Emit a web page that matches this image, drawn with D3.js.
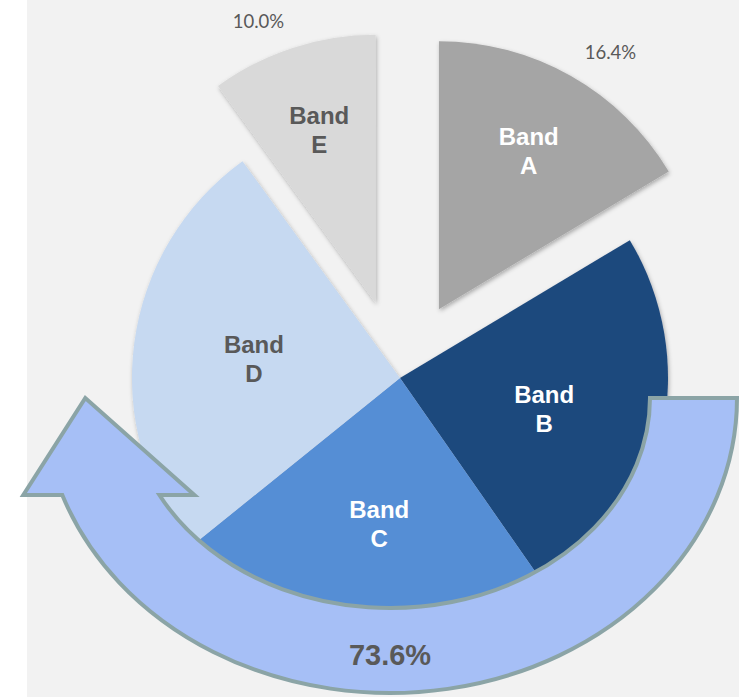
<!DOCTYPE html>
<html><head><meta charset="utf-8">
<script src="https://cdn.jsdelivr.net/npm/d3@7"></script>
<style>html,body{margin:0;padding:0;background:#fff;} svg{display:block}</style>
</head><body>
<svg id="chart" width="739" height="697"></svg>
<script>
// ---- data ----
const categories = ["Band A", "Band B", "Band C", "Band D", "Band E"];
const values = [16.4, 23.9, 23.9, 25.8, 10.0];
const pulledOut = ["Band A", "Band E"];
const groupedBands = ["Band B", "Band C", "Band D"];

// ---- layout ----
const W = 739, H = 697;
const cx = 400, cy = 378, R = 268, explode = 79;
const svg = d3.select("#chart");

svg.append("rect").attr("x", 27).attr("y", 0).attr("width", W - 27).attr("height", H).attr("fill", "#f2f2f2");

const defs = svg.append("defs");
const f = defs.append("filter").attr("id", "shadow").attr("x", "-20%").attr("y", "-20%").attr("width", "140%").attr("height", "140%");
f.append("feDropShadow").attr("dx", 1).attr("dy", 2).attr("stdDeviation", 2)
  .attr("flood-color", "#000").attr("flood-opacity", 0.3);

const color = d3.scaleOrdinal().domain(categories)
  .range(["#a5a5a5", "#1f497d", "#558ed5", "#c6d9f1", "#d9d9d9"]);
const labelColor = d3.scaleOrdinal().domain(categories)
  .range(["#ffffff", "#ffffff", "#ffffff", "#595959", "#595959"]);

const data = categories.map((c, i) => ({ cat: c, value: values[i] }));
const pie = d3.pie().sort(null).value(d => d.value);
const arcs = pie(data);
const arc = d3.arc().innerRadius(0).outerRadius(R);

const mid = d => (d.startAngle + d.endAngle) / 2;
const isOut = d => pulledOut.includes(d.data.cat);
const offset = d => isOut(d) ? [Math.sin(mid(d)) * explode, -Math.cos(mid(d)) * explode] : [0, 0];
const polar = (a, r) => [Math.sin(a) * r, -Math.cos(a) * r];

const g = svg.append("g").attr("transform", `translate(${cx},${cy})`);
g.append("g").attr("filter", "url(#shadow)")
  .selectAll("path").data(arcs).join("path")
  .attr("d", arc)
  .attr("fill", d => color(d.data.cat))
  .attr("transform", d => `translate(${offset(d)[0]},${offset(d)[1]})`);

// ---- curved arrow annotation ----
const ar = { cx: cx - 10, cy: cy + 20, orx: 347, ory: 295, irx: 260, iry: 210, endDy: 97, headOut: 39, headIn: 35, tipDx: 23 };
const ey = ar.cy + ar.endDy;
const oex = ar.cx - ar.orx * Math.sqrt(1 - Math.pow(ar.endDy / ar.ory, 2));
const iex = ar.cx - ar.irx * Math.sqrt(1 - Math.pow(ar.endDy / ar.iry, 2));
const arrowD = `M${ar.cx + ar.orx},${ar.cy} A${ar.orx},${ar.ory} 0 0 1 ${oex},${ey}` +
  ` L${oex - ar.headOut},${ey} L${oex + ar.tipDx},${ar.cy} L${iex + ar.headIn},${ey} L${iex},${ey}` +
  ` A${ar.irx},${ar.iry} 0 0 0 ${ar.cx + ar.irx},${ar.cy} Z`;
svg.append("path").attr("d", arrowD)
  .attr("fill", "#a6bff6").attr("stroke", "#8ba4a6").attr("stroke-width", 4)
  .attr("stroke-linejoin", "miter");

// ---- slice labels ----
const lab = g.selectAll("text.lab").data(arcs).join("text").attr("class", "lab")
  .attr("text-anchor", "middle")
  .attr("font-family", "'Liberation Sans', Arial, sans-serif")
  .attr("font-weight", "bold").attr("font-size", 24)
  .attr("fill", d => labelColor(d.data.cat))
  .attr("transform", d => {
    const o = offset(d);
    const p = polar(mid(d), R * (isOut(d) ? 0.68 : 0.55));
    return `translate(${o[0] + p[0]},${o[1] + p[1]})`;
  });
lab.each(function (d) {
  const parts = d.data.cat.split(" ");
  const t = d3.select(this);
  t.append("tspan").attr("x", 0).attr("y", -6).text(parts[0]);
  t.append("tspan").attr("x", 0).attr("y", 23).text(parts[1]);
});

// ---- percentage labels for pulled-out slices ----
g.selectAll("text.pct").data(arcs.filter(isOut)).join("text").attr("class", "pct")
  .attr("font-family", "Lato, 'Open Sans', sans-serif").attr("font-size", 18.5)
  .attr("fill", "#595959")
  .attr("dominant-baseline", "central")
  .attr("text-anchor", d => Math.sin(mid(d)) < 0 ? "end" : "start")
  .attr("x", d => offset(d)[0] + polar(mid(d), R + 28)[0])
  .attr("y", d => offset(d)[1] + polar(mid(d), R + 28)[1])
  .text(d => d3.format(".1f")(d.data.value) + "%");

// ---- grouped total on arrow ----
const groupTotal = d3.sum(data.filter(d => groupedBands.includes(d.cat)), d => d.value);
svg.append("text")
  .attr("x", ar.cx).attr("y", ar.cy + (ar.ory + ar.iry) / 2 + 14)
  .attr("text-anchor", "middle")
  .attr("font-family", "'Liberation Sans', Arial, sans-serif")
  .attr("font-weight", "bold").attr("font-size", 29).attr("fill", "#595959")
  .text(d3.format(".1f")(groupTotal) + "%");
</script>
</body></html>
